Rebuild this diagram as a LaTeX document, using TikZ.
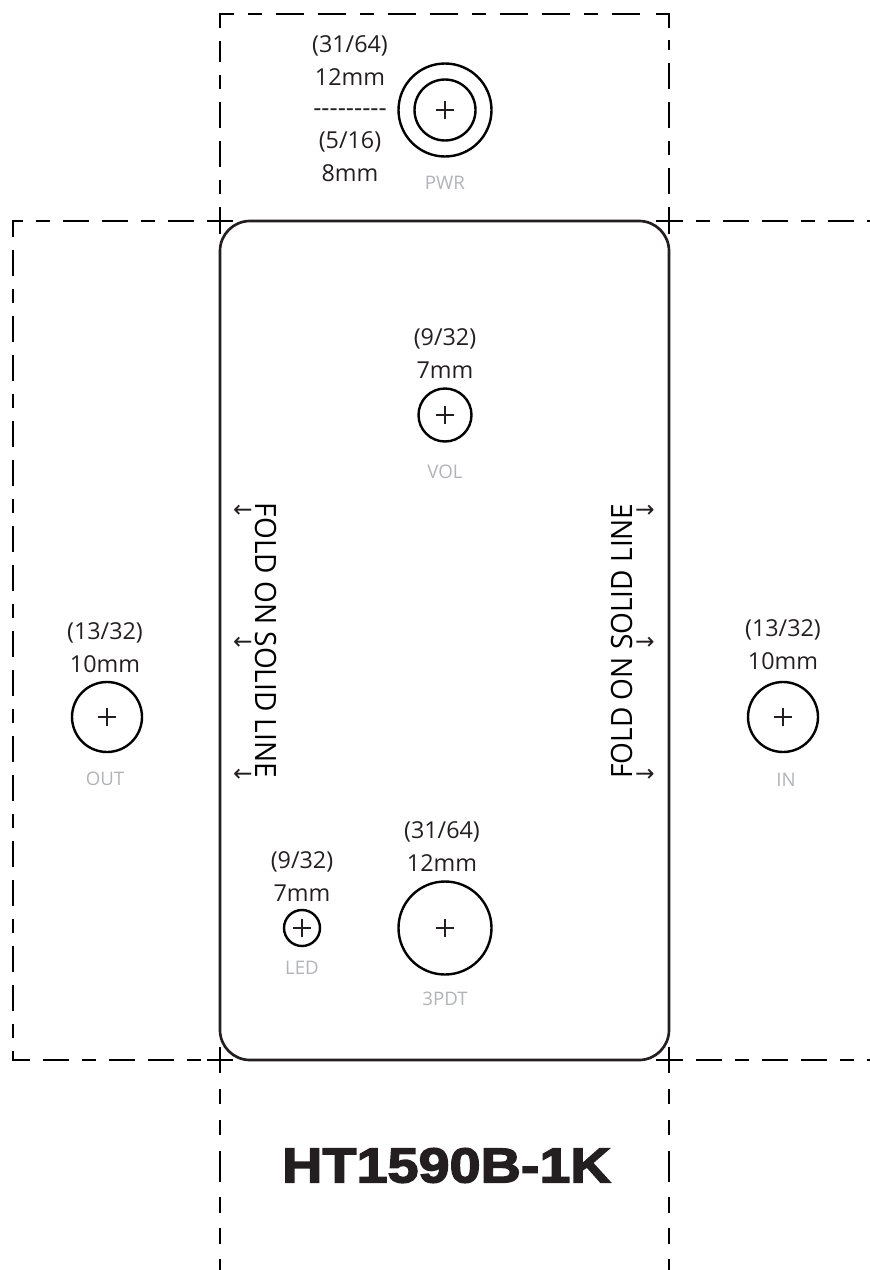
\documentclass[tikz,border=0pt]{standalone}
\usepackage{fontspec}
\setmainfont{Open Sans}
\newfontfamily\heavyfont{Liberation Sans}[UprightFont={* Bold},FakeStretch=1.14,FakeBold=3]
\newfontfamily\arrowfont{DejaVu Sans}
\newfontfamily\foldfont{Open Sans}[FakeStretch=0.955]
\definecolor{ink}{HTML}{231F20}
\definecolor{lbl}{HTML}{B1B3B6}
\tikzset{
  x=0.75pt,y=-0.75pt,
  foldline/.style={draw=ink,line width=2pt,rounded corners=22.5pt},
  solidcut/.style={draw=black,line width=2.1pt},
  cutlls/.style={solidcut,dash pattern=on 19.5pt off 9.9pt on 19.5pt off 9.9pt on 10.05pt off 9.9pt},
  cutlsl/.style={solidcut,dash pattern=on 19.5pt off 9.9pt on 10.05pt off 9.9pt on 19.5pt off 9.9pt},
  cuttop/.style={solidcut,dash pattern=on 10.5pt off 10.5pt on 21pt off 10.5pt on 21pt off 10.5pt},
  cutlow/.style={solidcut,dash pattern=on 11.6pt off 11.6pt on 11.6pt off 11.6pt on 23.2pt off 11.6pt},
  hole/.style={circle,draw=black,line width=1.8pt,inner sep=0pt},
  size/.style={text=ink,font=\fontsize{17.5pt}{24.75pt}\selectfont,align=center,inner sep=0pt},
  tag/.style={text=lbl,font=\fontsize{14pt}{15pt}\selectfont,inner sep=0pt},
  foldtext/.style={text=black,font=\foldfont\fontsize{22pt}{24pt}\selectfont,inner sep=0pt},
  arr/.style={text=ink,font=\arrowfont\fontsize{17.5pt}{18pt}\selectfont,inner sep=0pt},
  title/.style={text=ink,font=\heavyfont\fontsize{36.7pt}{40pt}\selectfont,inner sep=0pt},
}
\begin{document}
\begin{tikzpicture}
\useasboundingbox (0,0) rectangle (870,1270);
% cut lines
\draw[cutlsl] (220,233) -- (220,41);
\draw[solidcut] (220,28) -- (220,14) -- (234,14);
\draw[cuttop] (248,14) -- (642,14);
\draw[solidcut] (656,14) -- (669,14) -- (669,28);
\draw[cutlls] (669,233) -- (669,40);
\draw[cutlls] (233,221) -- (13,221) -- (13,1060) -- (233,1060);
\draw[cutlsl] (657,221) -- (870,221);
\draw[cutlls] (657,1060) -- (870,1060);
\draw[cutlow] (220,1089) -- (220,1270);
\draw[cutlow] (669,1089) -- (669,1270);
% corner ticks
\foreach \x/\y in {220/221,669/221,220/1060,669/1060}
  \draw[solidcut] (\x-13,\y) -- (\x+13,\y) (\x,\y-13) -- (\x,\y+13);
% panel
\draw[foldline] (220,640) -- (220,221) -- (669,221) -- (669,1060) -- (220,1060) -- cycle;
% holes
\foreach \n/\x/\y/\d in {pwrO/445/110/93,pwrI/445/110/61,vol/445/415/53,out/107/717/70,in/783/717/70,led/302/928/36,sw/445/928/93}{
  \node[hole,minimum size=\d*0.75pt] (\n) at (\x,\y) {};
}
\foreach \x/\y in {445/110,445/415,107/717,783/717,302/928,445/928}
  \draw[line width=0.9pt,ink] (\x-9,\y) -- (\x+9,\y) (\x,\y-9) -- (\x,\y+9);
% size labels
\node[size] (s1) at (350,60.5) {(31/64)\\12mm};
\node[size,font=\fontsize{19pt}{20pt}\selectfont] (s2) at (350,113) {-{}-{}-{}-{}-{}-{}-{}-{}-};
\node[size] (s3) at (350,157) {(5/16)\\8mm};
\node[size] (s4) at (445,354) {(9/32)\\7mm};
\node[size] (s5) at (105,647.5) {(13/32)\\10mm};
\node[size] (s6) at (783,645) {(13/32)\\10mm};
\node[size] (s7) at (302,877) {(9/32)\\7mm};
\node[size] (s8) at (442,847) {(31/64)\\12mm};
% tags
\node[tag] (t1) at (445,183) {PWR};
\node[tag] (t2) at (445,472) {VOL};
\node[tag] (t3) at (105,779) {OUT};
\node[tag] (t4) at (786,780) {IN};
\node[tag] (t5) at (302,968) {LED};
\node[tag] (t6) at (445,999) {3PDT};
% fold text
\node[foldtext,rotate=-90] (f1) at (266,640.5) {FOLD ON SOLID LINE};
\node[foldtext,rotate=90] (f2) at (621.5,641) {FOLD ON SOLID LINE};
\foreach \i/\y in {1/511,2/643,3/775}{
  \node[arr] (al\i) at (243,\y) {←};
  \node[arr] (ar\i) at (645,\y) {→};
}
% title
\node[title] (ttl) at (446.5,1165.5) {HT1590B-1K};
\end{tikzpicture}
\end{document}
